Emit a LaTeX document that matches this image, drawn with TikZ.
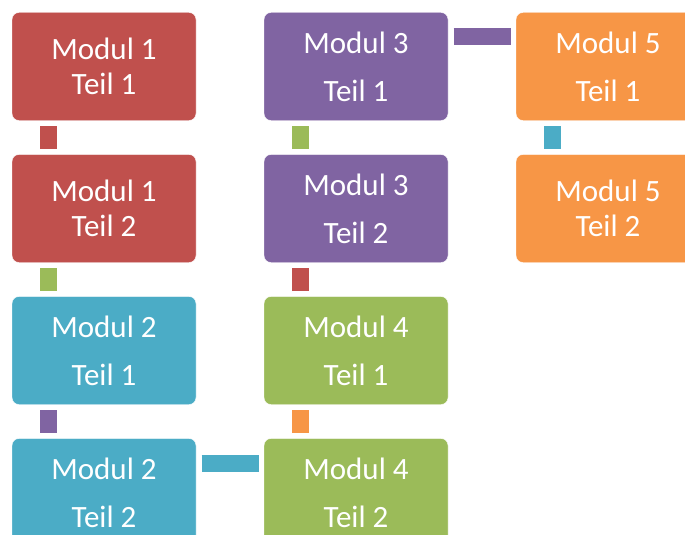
\documentclass[tikz,border=0pt]{standalone}
\usepackage{fontspec}
\setmainfont{Carlito}
\usepackage{xcolor}
\usepackage{tikz}
\usetikzlibrary{positioning}
\definecolor{modred}{HTML}{C0504D}
\definecolor{modpurple}{HTML}{8064A2}
\definecolor{modorange}{HTML}{F79646}
\definecolor{modblue}{HTML}{4BACC6}
\definecolor{modgreen}{HTML}{9BBB59}

\begin{document}
\begin{tikzpicture}[x=1pt, y=1pt,
    box/.style={rectangle, rounded corners=7pt, fill=#1, draw=white, text=white, minimum width=184pt, minimum height=108pt, outer sep=0pt, inner sep=0pt, align=center},
    tight/.style={font=\fontsize{31pt}{34.5pt}\selectfont},
    loose/.style={font=\fontsize{31pt}{48pt}\selectfont},
    link/.style={draw=#1, line width=17pt}]
    \clip (0,0) rectangle (685,-535);
    % first column
    \node[box=modred, tight] (m1a) at (104,-66.5) {Modul 1\\Teil 1};
    \node[box=modred, tight, below=34pt of m1a] (m1b) {Modul 1\\Teil 2};
    \node[box=modblue, loose, below=34pt of m1b] (m2a) {Modul 2\\Teil 1};
    \node[box=modblue, loose, below=34pt of m2a] (m2b) {Modul 2\\Teil 2};
    % second column
    \node[box=modpurple, loose, right=68pt of m1a] (m3a) {Modul 3\\Teil 1};
    \node[box=modpurple, loose, below=34pt of m3a] (m3b) {Modul 3\\Teil 2};
    \node[box=modgreen, loose, below=34pt of m3b] (m4a) {Modul 4\\Teil 1};
    \node[box=modgreen, loose, below=34pt of m4a] (m4b) {Modul 4\\Teil 2};
    % third column
    \node[box=modorange, loose, right=68pt of m3a] (m5a) {Modul 5\\Teil 1};
    \node[box=modorange, tight, below=34pt of m5a] (m5b) {Modul 5\\Teil 2};

    % links
    \draw[link=modred] ([shift={(36pt,-5.5pt)}]m1a.south west) -- ([shift={(36pt,5.5pt)}]m1b.north west);
    \draw[link=modgreen] ([shift={(36pt,-5.5pt)}]m1b.south west) -- ([shift={(36pt,5.5pt)}]m2a.north west);
    \draw[link=modpurple] ([shift={(36pt,-5.5pt)}]m2a.south west) -- ([shift={(36pt,5.5pt)}]m2b.north west);
    \draw[link=modblue] ([shift={(5.5pt,-25pt)}]m2b.north east) -- ([shift={(-5.5pt,-25pt)}]m4b.north west);
    \draw[link=modorange] ([shift={(36pt,5.5pt)}]m4b.north west) -- ([shift={(36pt,-5.5pt)}]m4a.south west);
    \draw[link=modred] ([shift={(36pt,5.5pt)}]m4a.north west) -- ([shift={(36pt,-5.5pt)}]m3b.south west);
    \draw[link=modgreen] ([shift={(36pt,5.5pt)}]m3b.north west) -- ([shift={(36pt,-5.5pt)}]m3a.south west);
    \draw[link=modpurple] ([shift={(5.5pt,-24pt)}]m3a.north east) -- ([shift={(-5.5pt,-24pt)}]m5a.north west);
    \draw[link=modblue] ([shift={(36pt,-5.5pt)}]m5a.south west) -- ([shift={(36pt,5.5pt)}]m5b.north west);
\end{tikzpicture}
\end{document}
